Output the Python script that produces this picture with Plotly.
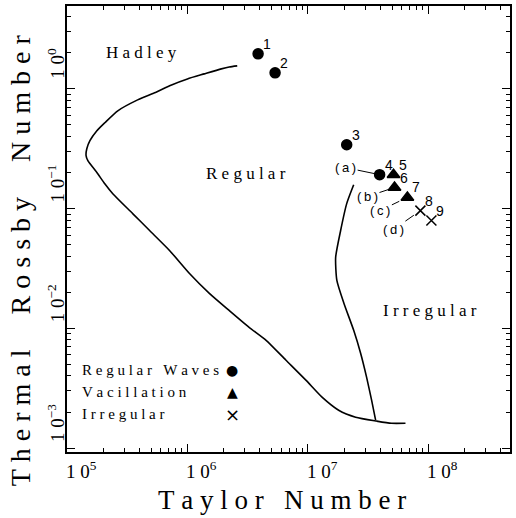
import math
import plotly.graph_objects as go

# ---------------- data ----------------
# left/lower boundary curve (Hadley / Regular / Irregular)
taylor_a = [2.59e6, 2.22e6, 1.91e6, 1.38e6, 1.0e6, 7.38e5, 5.33e5, 3.86e5, 2.64e5, 2.06e5,
            1.77e5, 1.55e5, 1.46e5, 1.44e5, 1.49e5, 1.77e5, 2.06e5, 2.40e5, 3.51e5, 4.85e5,
            7.10e5, 1.04e6, 1.52e6, 2.22e6, 3.25e6, 4.50e6, 6.58e6, 9.62e6, 1.31e7, 1.80e7,
            2.49e7, 3.72e7, 4.94e7, 6.46e7]
rossby_a = [1.556, 1.524, 1.469, 1.334, 1.211, 1.079, 0.927, 0.809, 0.656, 0.521,
            0.447, 0.369, 0.316, 0.277, 0.251, 0.200, 0.161, 0.133, 0.0908, 0.0656,
            0.0447, 0.0287, 0.0196, 0.0141, 0.0102, 0.00794, 0.00541, 0.00369, 0.00266, 0.00207,
            0.00181, 0.00168, 0.00161, 0.00161]

# regular / irregular boundary
taylor_b = [2.40e7, 2.10e7, 1.87e7, 1.70e7, 1.74e7, 1.99e7, 2.40e7, 2.74e7, 3.07e7, 3.38e7, 3.65e7]
rossby_b = [0.158, 0.110, 0.0656, 0.0391, 0.0251, 0.0162, 0.00962, 0.00619, 0.00391, 0.00251, 0.00171]

# experiment points
pt_labels = ["1", "2", "3", "4", "5", "6", "7", "8", "9"]
pt_taylor = [3.86e6, 5.34e6, 2.10e7, 3.94e7, 5.14e7, 5.24e7, 6.70e7, 8.59e7, 1.06e8]
pt_rossby = [1.96, 1.36, 0.341, 0.192, 0.192, 0.150, 0.124, 0.0962, 0.0794]
pt_regime = ["Regular Waves", "Regular Waves", "Regular Waves", "Regular Waves",
             "Vacillation", "Vacillation", "Vacillation", "Irregular", "Irregular"]

# case letters pointing to points
case_letters = ["(a)", "(b)", "(c)", "(d)"]
case_point = ["4", "6", "7", "8"]

regimes = ["Regular Waves", "Vacillation", "Irregular"]
regime_glyph = ["\u25CF", "\u25B2", "\u00D7"]

region_names = ["Hadley", "Regular", "Irregular"]
region_taylor = [4.17e5, 3.08e6, 1.04e8]
region_rossby = [2.0, 0.196, 0.0141]

x_tickvals = [1e5, 1e6, 1e7, 1e8]
x_ticktext = ["1\u00a00<sup>5</sup>", "1\u00a00<sup>6</sup>", "1\u00a00<sup>7</sup>", "1\u00a00<sup>8</sup>"]
y_tickvals = [1e-3, 1e-2, 1e-1, 1e0]
y_ticktext = ["1\u00a00<sup>\u22123</sup>", "1\u00a00<sup>\u22122</sup>",
              "1\u00a00<sup>\u22121</sup>", "1\u00a00<sup>0</sup>"]

X_RANGE = [5.0, 8.678]      # log10 axis range
Y_RANGE = [-3.033, 0.692]

# ---------------- styling helpers ----------------
NB = "\u00a0"
SERIF = "Liberation Serif, Times New Roman, serif"
SANS = "Liberation Sans, Arial, sans-serif"


def spaced(s, gap=NB, wordgap=NB * 3):
    words = s.split(" ")
    return wordgap.join(gap.join(list(w)) for w in words)


symbol_map = {"Regular Waves": "circle", "Vacillation": "triangle-up", "Irregular": "x-thin"}
size_map = {"Regular Waves": 10, "Vacillation": 11, "Irregular": 10}

fig = go.Figure()

fig.add_trace(go.Scatter(x=taylor_a, y=rossby_a, mode="lines",
                         line=dict(color="black", width=1.6, shape="spline", smoothing=0.6),
                         hoverinfo="skip", showlegend=False))
fig.add_trace(go.Scatter(x=taylor_b, y=rossby_b, mode="lines",
                         line=dict(color="black", width=1.6, shape="spline", smoothing=0.6),
                         hoverinfo="skip", showlegend=False))

for reg in regimes:
    xs = [t for t, r in zip(pt_taylor, pt_regime) if r == reg]
    ys = [v for v, r in zip(pt_rossby, pt_regime) if r == reg]
    fig.add_trace(go.Scatter(x=xs, y=ys, mode="markers", showlegend=False,
                             marker=dict(symbol=symbol_map[reg], size=size_map[reg], color="black",
                                         line=dict(color="black", width=1.5))))

annotations = []
# point numbers
for lab, t, r in zip(pt_labels, pt_taylor, pt_rossby):
    annotations.append(dict(x=math.log10(t), y=math.log10(r), xref="x", yref="y", text=lab,
                            showarrow=False, xshift=9, yshift=10,
                            font=dict(family=SANS, size=14, color="black")))

# case letters with leader lines
case_offsets = {"(a)": (-34, -7, 5), "(b)": (-27, 9, 6), "(c)": (-27, 13, 9), "(d)": (-27, 19, 8)}
for lt, pl in zip(case_letters, case_point):
    i = pt_labels.index(pl)
    ax, ay, so = case_offsets[lt]
    annotations.append(dict(x=math.log10(pt_taylor[i]), y=math.log10(pt_rossby[i]), xref="x", yref="y",
                            text=spaced(lt, gap="\u2009"), showarrow=True, arrowhead=0, arrowwidth=1,
                            arrowcolor="black", ax=ax, ay=ay, standoff=so,
                            font=dict(family=SANS, size=13, color="black")))

# region names
for nm, t, r in zip(region_names, region_taylor, region_rossby):
    annotations.append(dict(x=math.log10(t), y=math.log10(r), xref="x", yref="y", text=spaced(nm),
                            showarrow=False, font=dict(family=SERIF, size=17, color="black")))

# key
key_y = [0.183, 0.134, 0.085]
for reg, gl, ky in zip(regimes, regime_glyph, key_y):
    annotations.append(dict(x=0.029, y=ky, xref="paper", yref="paper", text=spaced(reg),
                            xanchor="left", yanchor="middle", showarrow=False,
                            font=dict(family=SERIF, size=15, color="black")))
    annotations.append(dict(x=0.373, y=ky, xref="paper", yref="paper", text=gl,
                            xanchor="center", yanchor="middle", showarrow=False,
                            font=dict(family="DejaVu Sans", size=14 if gl != "\u00D7" else 18,
                                      color="black")))

# tick labels (annotations so they sit beside the ticks as in the original)
for v, t in zip(x_tickvals, x_ticktext):
    annotations.append(dict(x=math.log10(v), y=0, xref="x", yref="paper", text=t,
                            showarrow=False, xanchor="left", yanchor="top", xshift=-3, yshift=-4,
                            font=dict(family=SERIF, size=19, color="black")))
for v, t in zip(y_tickvals, y_ticktext):
    annotations.append(dict(x=0, y=math.log10(v), xref="paper", yref="y", text=t,
                            showarrow=False, textangle=-90, xanchor="center", yanchor="middle",
                            xshift=-11, yshift=25,
                            font=dict(family=SERIF, size=19, color="black")))

# axis titles
annotations.append(dict(x=0.485, y=-0.107, xref="paper", yref="paper", text=spaced("Taylor Number"),
                        showarrow=False, xanchor="center", yanchor="middle",
                        font=dict(family=SERIF, size=27, color="black")))
annotations.append(dict(x=-0.106, y=0.43, xref="paper", yref="paper",
                        text=spaced("Thermal Rossby Number", wordgap=NB * 5),
                        showarrow=False, textangle=-90, xanchor="center", yanchor="middle",
                        font=dict(family=SERIF, size=28, color="black")))

axis_common = dict(type="log", showline=True, linecolor="black", linewidth=1.5, mirror="allticks",
                   ticks="inside", ticklen=8, tickwidth=1.3, tickcolor="black",
                   showgrid=False, zeroline=False, showticklabels=False,
                   minor=dict(ticks="inside", ticklen=4, tickwidth=1, tickcolor="black",
                              dtick="D1", showgrid=False))

fig.update_layout(
    width=516, height=518, autosize=False,
    margin=dict(l=67, r=4, t=5, b=66),
    paper_bgcolor="white", plot_bgcolor="white",
    showlegend=False,
    annotations=annotations,
    xaxis=dict(**axis_common, range=X_RANGE, tickmode="array", tickvals=x_tickvals),
    yaxis=dict(**axis_common, range=Y_RANGE, tickmode="array", tickvals=y_tickvals),
)

fig.write_html("out.html")
